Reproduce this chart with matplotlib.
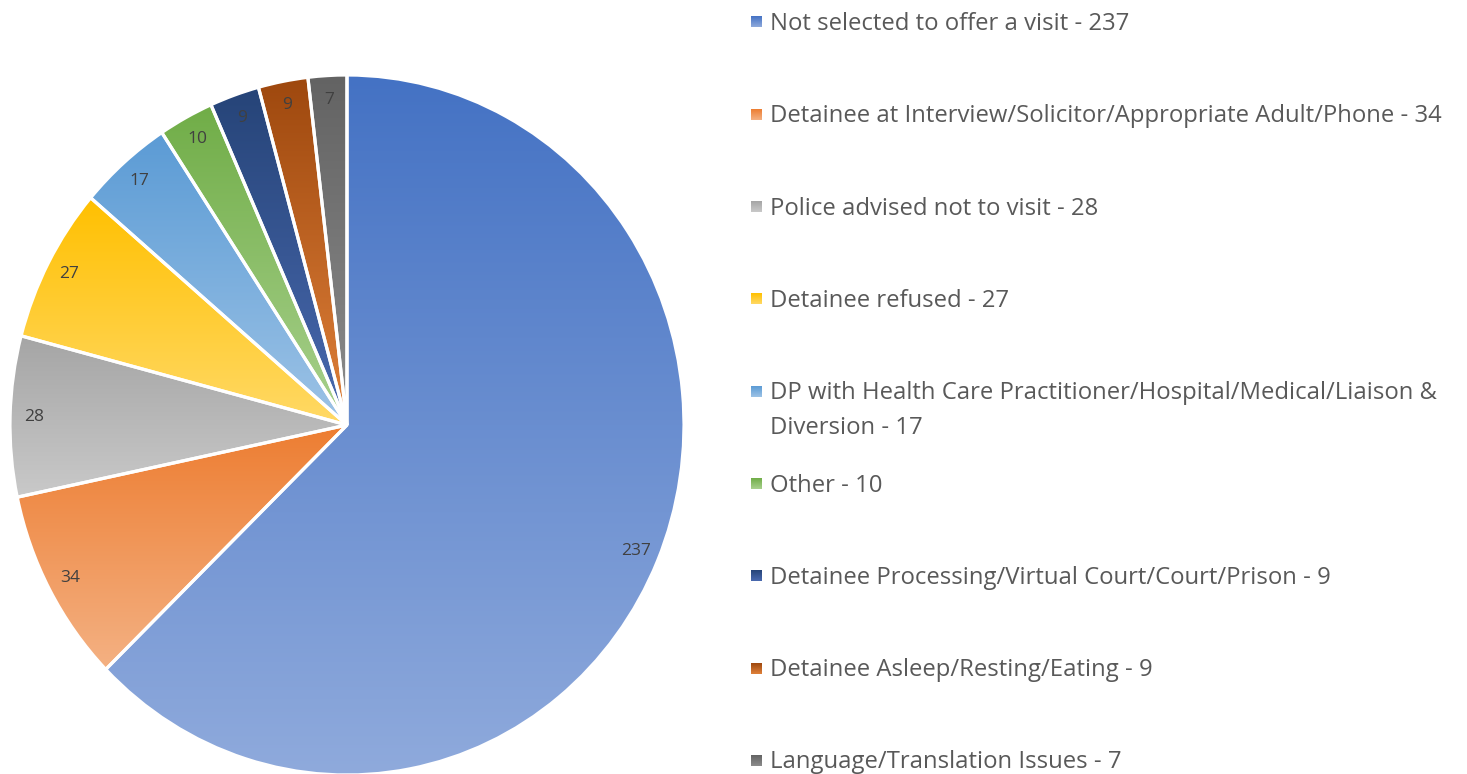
import matplotlib.pyplot as plt
import numpy as np
from matplotlib.colors import LinearSegmentedColormap

plt.rcParams['font.family'] = ['Open Sans', 'DejaVu Sans']

categories = [
    'Not selected to offer a visit',
    'Detainee at Interview/Solicitor/Appropriate Adult/Phone',
    'Police advised not to visit',
    'Detainee refused',
    'DP with Health Care Practitioner/Hospital/Medical/Liaison &\nDiversion',
    'Other',
    'Detainee Processing/Virtual Court/Court/Prison',
    'Detainee Asleep/Resting/Eating',
    'Language/Translation Issues',
]
values = [237, 34, 28, 27, 17, 10, 9, 9, 7]

# top colour -> bottom colour of each slice gradient
top_colors = ['#4472C4', '#ED7D31', '#A5A5A5', '#FFC000', '#5B9BD5',
              '#70AD47', '#264478', '#9E480E', '#636363']
bottom_colors = ['#8FAADC', '#F4B183', '#C9C9C9', '#FFD966', '#9DC3E6',
                 '#A9D18E', '#4A6AB0', '#E0813A', '#8C8C8C']

W, H = 1467, 774
fig = plt.figure(figsize=(W / 100, H / 100), dpi=100)

# pie area (slightly elliptical like the source)
cx, cy, rx, ry = 347, 425, 337, 350
ax = fig.add_axes([(cx - rx) / W, (H - cy - ry) / H, 2 * rx / W, 2 * ry / H])

wedges, _ = ax.pie(values, startangle=90, counterclock=False, radius=1,
                   wedgeprops=dict(edgecolor='white', linewidth=2.3, facecolor='none'))

grad = np.linspace(0, 1, 256).reshape(-1, 1)
for w, c0, c1, v in zip(wedges, top_colors, bottom_colors, values):
    ext = w.get_path().get_extents()
    cmap = LinearSegmentedColormap.from_list('g', [c0, c1])
    im = ax.imshow(grad, extent=[ext.x0, ext.x1, ext.y0, ext.y1], origin='upper',
                   cmap=cmap, aspect='auto', zorder=0.5)
    im.set_clip_path(w)
    w.set_zorder(2)
    w.set_clip_on(False)
    mid = np.deg2rad((w.theta1 + w.theta2) / 2)
    ax.text(0.93 * np.cos(mid), 0.93 * np.sin(mid), str(v), ha='center', va='center',
            fontsize=12.5, color='#404040', zorder=3)

ax.set_aspect('auto')
ax.set_xlim(-1, 1)
ax.set_ylim(-1, 1)
ax.axis('off')

# legend
lg = fig.add_axes([0, 0, 1, 1])
lg.axis('off')
lg.patch.set_alpha(0)
y0, step = 22, 92.3
for i, (cat, v) in enumerate(zip(categories, values)):
    y = y0 + i * step
    cmap = LinearSegmentedColormap.from_list('g', [top_colors[i], bottom_colors[i]])
    lg.imshow(grad, extent=[751, 762, y + 5.5, y - 5.5], origin='upper',
              cmap=cmap, aspect='auto')
    lines = (cat + ' - ' + str(v)).split('\n')
    for j, line in enumerate(lines):
        lg.text(770, y + 2 + j * 35, line, ha='left', va='center', fontsize=17.2,
                color='#595959')
lg.set_xlim(0, W)
lg.set_ylim(H, 0)

fig.savefig('out.png', dpi=100)
